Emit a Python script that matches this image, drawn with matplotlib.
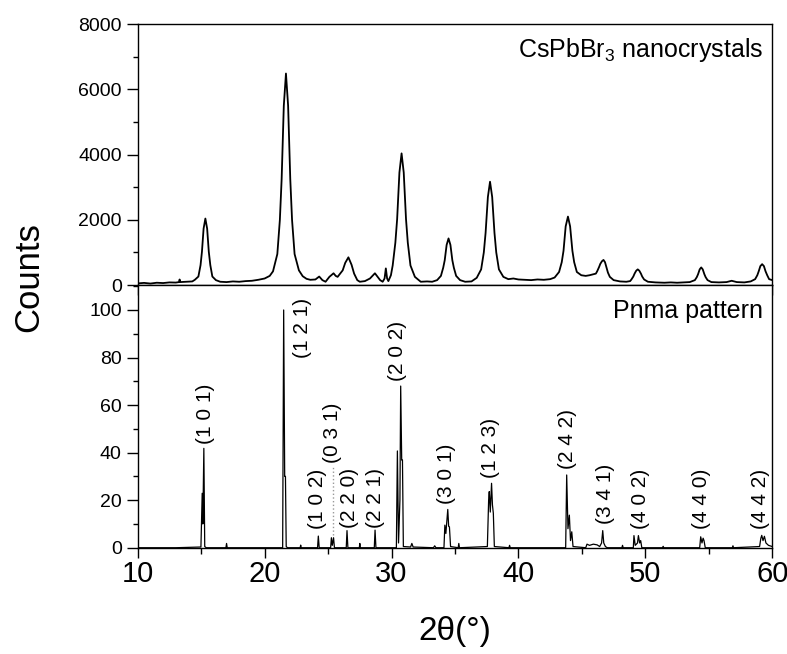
import matplotlib
matplotlib.use("Agg")
import matplotlib.pyplot as plt
from matplotlib.ticker import MultipleLocator

plt.rcParams.update({
    'font.family': ['Liberation Sans', 'DejaVu Sans'],
    'mathtext.default': 'regular',
    'axes.linewidth': 1.0,
})

nc_2theta = [10.0, 10.5, 11.0, 11.5, 12.0, 12.5, 13.0, 13.25, 13.3, 13.35, 13.8, 14.3,
             14.5, 14.78, 14.95, 15.06, 15.19, 15.33, 15.47, 15.6, 15.72, 15.88, 16.16,
             16.5, 17.0, 17.5, 18.0, 18.5, 19.0, 19.5, 20.0, 20.4,
             20.66, 21.0, 21.2, 21.34, 21.51, 21.68, 21.85, 22.02, 22.16, 22.36, 22.7,
             23.0, 23.3, 23.6, 24.0, 24.3, 24.55, 24.8, 25.1, 25.43, 25.6, 25.75, 25.95,
             26.15, 26.35, 26.6, 26.85, 27.05, 27.3, 27.5, 27.9, 28.3, 28.69, 28.9, 29.1,
             29.3, 29.45, 29.55, 29.65, 29.75, 29.95,
             30.09, 30.3, 30.44, 30.62, 30.79, 30.96, 31.14, 31.28, 31.49, 31.84, 32.3,
             32.8, 33.2, 33.59, 33.89, 34.07, 34.19, 34.34, 34.49, 34.64, 34.79, 34.91,
             35.09, 35.4, 35.8, 36.3,
             36.71, 37.06, 37.27, 37.41, 37.59, 37.76, 37.93, 38.11, 38.25, 38.46, 38.81,
             39.2, 39.6, 40.0, 40.5, 41.0, 41.5, 42.0, 42.5,
             42.85, 43.2, 43.41, 43.55, 43.72, 43.9, 44.07, 44.25, 44.39, 44.6, 44.95,
             45.3, 45.6, 45.9, 46.1, 46.2, 46.35, 46.45, 46.58, 46.7, 46.82, 46.95, 47.05,
             47.2, 47.5, 48.0, 48.5, 48.8,
             48.9, 49.05, 49.15, 49.28, 49.4, 49.52, 49.65, 49.75, 49.9, 50.2, 50.8,
             51.5, 52.0, 52.5, 53.0, 53.5,
             53.9, 54.05, 54.15, 54.28, 54.4, 54.52, 54.65, 54.75, 54.9, 55.2, 55.8,
             56.4, 56.8, 57.2, 57.8, 58.3,
             58.65, 58.82, 58.93, 59.06, 59.2, 59.34, 59.47, 59.6, 59.75, 60.0]
nc_counts = [50, 65, 45, 70, 60, 80, 75, 90, 170, 90, 100, 110,
             160, 260, 610, 1020, 1730, 2040, 1730, 1020, 610, 260, 150,
             100, 90, 110, 100, 120, 130, 160, 200, 280,
             420, 950, 2000, 3250, 5500, 6490, 5500, 3250, 2000, 950, 450,
             270, 190, 160, 170, 260, 150, 100, 250, 360, 280, 250, 350,
             450, 680, 850, 620, 350, 150, 100, 120, 200, 360, 250, 150,
             100, 200, 510, 200, 120, 300,
             600, 1300, 2020, 3450, 4040, 3450, 2020, 1300, 600, 250, 100,
             110, 100, 150, 280, 530, 760, 1230, 1430, 1230, 760, 530,
             280, 150, 100, 110,
             220, 480, 1000, 1600, 2700, 3170, 2700, 1600, 1000, 480, 250,
             180, 200, 170, 160, 150, 170, 160, 180,
             230, 400, 700, 1050, 1800, 2100, 1800, 1050, 700, 400, 300,
             280, 300, 330, 350, 420, 550, 650, 730, 770, 700, 520, 380,
             250, 150, 110, 100, 120,
             170, 260, 350, 440, 480, 440, 350, 260, 170, 100, 80,
             70, 80, 70, 80, 90,
             150, 240, 330, 480, 540, 480, 330, 240, 150, 90, 80,
             90, 130, 90, 80, 110,
             180, 300, 420, 580, 640, 580, 420, 300, 180, 150]

# reference Pnma pattern (relative intensity)
ref_2theta = [10.0, 13.0, 14.98, 15.08, 15.13, 15.21, 15.28, 15.4,
              16.95, 17.0, 17.05,
              21.42, 21.5, 21.58, 21.64, 21.7, 21.8,
              22.8, 22.84, 22.88,
              24.17, 24.23, 24.3,
              25.2, 25.26, 25.33, 25.43, 25.5,
              26.43, 26.49, 26.56,
              27.46, 27.5, 27.54,
              28.64, 28.7, 28.77,
              30.38, 30.46, 30.55, 30.66, 30.72, 30.8, 30.86, 30.93,
              31.5, 31.6, 31.7, 33.3, 33.4, 33.5,
              34.13, 34.2, 34.28, 34.43, 34.5, 34.56, 34.65,
              35.25, 35.3, 35.35,
              37.55, 37.65, 37.7, 37.78, 37.88, 37.95, 38.02, 38.1,
              39.25, 39.3, 39.35,
              43.72, 43.8, 43.9, 44.01, 44.1, 44.2, 44.3,
              45.3, 45.4, 45.6, 45.9, 46.2, 46.4, 46.55, 46.64, 46.72, 46.85, 47.0,
              48.15, 48.2, 48.25,
              49.05, 49.1, 49.2, 49.38, 49.45, 49.55, 49.63, 49.72,
              51.35, 51.4, 51.45,
              54.28, 54.36, 54.46, 54.55, 54.62, 54.72,
              56.85, 56.9, 56.95,
              59.0, 59.1, 59.17, 59.27, 59.38, 59.5, 59.7, 60.0]
ref_int = [0, 0, 0.3, 22.9, 10, 41.8, 0.5, 0,
           0, 1.8, 0,
           0, 100, 30, 30, 0.5, 0,
           0, 1.1, 0,
           0, 4.9, 0,
           0, 4.2, 1, 4.2, 0,
           0, 7.2, 0,
           0, 1.8, 0,
           0, 7.4, 0,
           0, 40.7, 2, 20, 68, 36.9, 36.9, 0.5,
           0.3, 1.8, 0.3, 0, 0.8, 0,
           0, 9.5, 6, 16.1, 9, 8.8, 0.5,
           0, 1.8, 0,
           0.5, 20, 23.6, 15, 27.1, 18, 14.5, 0.5,
           0, 1, 0,
           0, 30.6, 8, 13.7, 3, 6.7, 0.5,
           0, 1.5, 1, 1.5, 1.2, 0.5, 2, 7.2, 2, 0.5, 0,
           0, 1, 0,
           0, 5.1, 1, 2, 5.1, 2, 3, 0,
           0, 0.6, 0,
           0, 4.6, 2, 4, 3, 0,
           0, 0.8, 0,
           0.5, 4, 5.2, 3, 4.8, 2, 1, 0.5]

# Miller index labels: text, x position, y of the label's lower end
hkl_labels = ['(1 0 1)', '(1 2 1)', '(1 0 2)', '(0 3 1)', '(2 2 0)', '(2 2 1)', '(2 0 2)',
              '(3 0 1)', '(1 2 3)', '(2 4 2)', '(3 4 1)', '(4 0 2)', '(4 4 0)', '(4 4 2)']
hkl_x = [15.35, 22.95, 24.2, 25.35, 26.7, 28.7, 30.5,
         34.33, 37.8, 43.85, 46.85, 49.6, 54.45, 59.05]
hkl_y = [43.5, 80.0, 7.7, 35.8, 8.4, 8.4, 70.2,
         18.3, 29.5, 33.0, 9.8, 7.7, 7.7, 7.7]

fig = plt.figure(figsize=(7.87, 6.54), dpi=100)
ax1 = fig.add_axes([0.175, 0.5642, 0.8063, 0.3986])
ax2 = fig.add_axes([0.175, 0.1625, 0.8063, 0.4017])

# top: nanocrystal pattern
ax1.plot(nc_2theta, nc_counts, color='black', lw=1.3)
ax1.set_xlim(10, 60)
ax1.set_ylim(0, 8000)
ax1.xaxis.set_major_locator(MultipleLocator(10))
ax1.xaxis.set_minor_locator(MultipleLocator(5))
ax1.yaxis.set_major_locator(MultipleLocator(2000))
ax1.yaxis.set_minor_locator(MultipleLocator(1000))
ax1.tick_params(axis='x', which='both', direction='out', length=7, width=1, labelbottom=False)
ax1.tick_params(axis='y', which='major', direction='out', length=8, width=1, labelsize=14, pad=3.5)
ax1.tick_params(axis='y', which='minor', direction='out', length=3.6, width=1)
ax1.text(59.25, 7000, 'CsPbBr$_3$ nanocrystals', ha='right', va='baseline', fontsize=18)

# bottom: Pnma reference pattern
ax2.plot(ref_2theta, ref_int, color='black', lw=0.9)
ax2.plot([25.35, 25.35], [5.5, 34.5], color='#999999', lw=1, ls=':')
for lab, x, y in zip(hkl_labels, hkl_x, hkl_y):
    ax2.text(x, y, lab, rotation=90, ha='center', va='bottom', fontsize=15)
ax2.text(59.25, 96.6, 'Pnma pattern', ha='right', va='baseline', fontsize=18)
ax2.set_xlim(10, 60)
ax2.set_ylim(0, 110.5)
ax2.xaxis.set_major_locator(MultipleLocator(10))
ax2.xaxis.set_minor_locator(MultipleLocator(5))
ax2.yaxis.set_major_locator(MultipleLocator(20))
ax2.yaxis.set_minor_locator(MultipleLocator(10))
ax2.tick_params(axis='x', which='major', direction='out', length=7, width=1, labelsize=21, pad=2)
ax2.tick_params(axis='x', which='minor', direction='out', length=4, width=1)
ax2.tick_params(axis='y', which='major', direction='out', length=8, width=1, labelsize=14, pad=3.5)
ax2.tick_params(axis='y', which='minor', direction='out', length=3.6, width=1)
ax2.set_xlabel('2θ(°)', fontsize=24, labelpad=20)

fig.text(0.036, 0.5765, 'Counts', rotation=90, ha='center', va='center', fontsize=25)

fig.savefig('out.png', dpi=100)
